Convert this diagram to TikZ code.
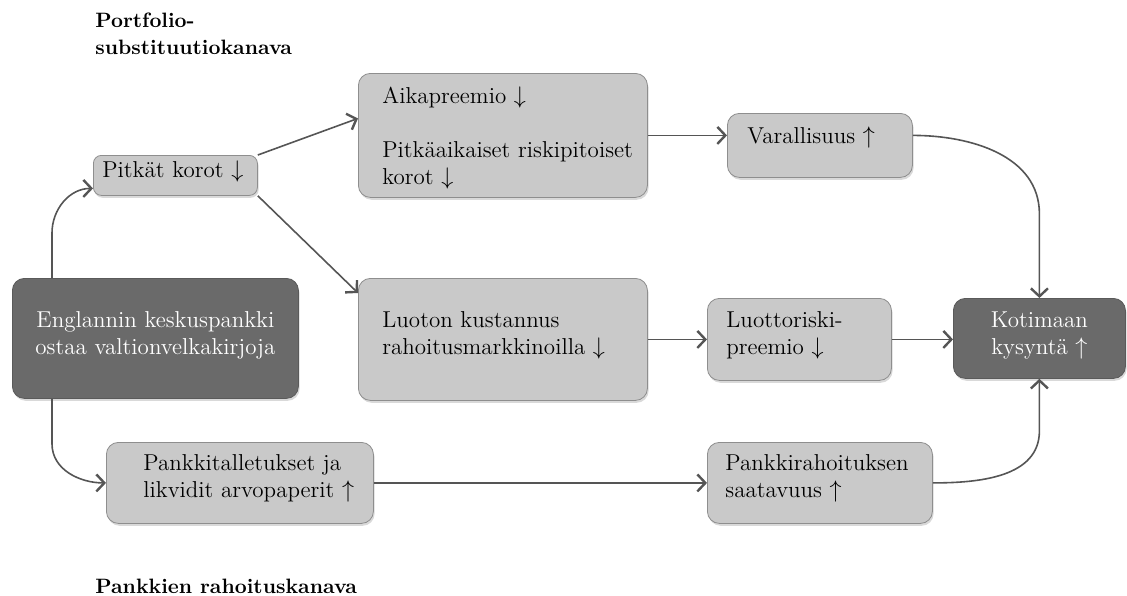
\documentclass[tikz,border=0pt]{standalone}
\usepackage{fontspec}
\usepackage{tikz}
\usetikzlibrary{arrows.meta,shadows}

\definecolor{boxgray}{HTML}{C9C9C9}
\definecolor{boxline}{HTML}{8E8E8E}
\definecolor{boxdark}{HTML}{6A6A6A}
\definecolor{arrowgray}{HTML}{555555}

\newcommand\boxfont{\fontsize{11.5}{13.5}\selectfont\hyphenpenalty=10000\relax}

\tikzset{
  box/.style={rectangle, rounded corners=6pt, draw=boxline, fill=boxgray,
    anchor=north west, align=left, inner ysep=0pt, font=\boxfont,
    drop shadow={shadow xshift=0.6pt, shadow yshift=-1.2pt, opacity=0.3}},
  darkbox/.style={box, fill=boxdark, draw=boxdark!85!black, text=white,
    align=center, inner xsep=0pt},
  arrow/.style={draw=arrowgray, line width=0.8pt,
    -{Straight Barb[length=4pt,width=8.5pt,line width=1.2pt]}},
  title/.style={font=\fontsize{10.4}{13.5}\selectfont\bfseries, align=left, inner sep=0pt}
}

\begin{document}
\begin{tikzpicture}[x=0.5pt,y=-0.5pt]
  \useasboundingbox (0,0) rectangle (1127,595);

  % channel titles
  \node[title, anchor=north west] (ptitle) at (95,13) {Portfolio-\\substituutiokanava};
  \node[title, anchor=base west] (btitle) at (95,593) {Pankkien rahoituskanava};

  % boxes
  \node[darkbox, text width=143pt, text height=24.5pt, text depth=35.5pt] (eng) at (12,278)
    {Englannin keskuspankki\\ostaa valtionvelkakirjoja};
  \node[box, rounded corners=4pt, inner xsep=4.5pt, text width=73pt, text height=11pt, text depth=9pt] (pit) at (93,155)
    {Pitkät~korot~$\downarrow$};
  \node[box, inner xsep=12pt, text width=120.5pt, text height=15pt, text depth=47pt] (aika) at (358,73)
    {Aikapreemio~$\downarrow$\\[13.5pt]Pitkäaikaiset~riskipitoiset\\korot~$\downarrow$};
  \node[box, inner xsep=12pt, text width=120.5pt, text height=24.5pt, text depth=36.5pt] (luo) at (358,278)
    {Luoton~kustannus\\rahoitusmarkkinoilla~$\downarrow$};
  \node[box, inner xsep=10pt, text width=72.5pt, text height=15pt, text depth=17pt] (var) at (727,113)
    {Varallisuus~$\uparrow$};
  \node[box, inner xsep=9.5pt, text width=73pt, text height=14.5pt, text depth=26.5pt] (lri) at (707,298)
    {Luottoriski-\\preemio~$\downarrow$};
  \node[darkbox, text width=86pt, text height=14.5pt, text depth=25.5pt] (kot) at (953,298)
    {Kotimaan\\kysyntä~$\uparrow$};
  \node[box, inner xsep=18.5pt, text width=96.5pt, text height=14pt, text depth=26.5pt] (pta) at (106,442)
    {Pankkitalletukset~ja\\likvidit~arvopaperit~$\uparrow$};
  \node[box, inner xsep=9pt, text width=94.5pt, text height=14pt, text depth=26.5pt] (prh) at (707,442)
    {Pankkirahoituksen\\saatavuus~$\uparrow$};

  % portfolio channel
  \draw[arrow] ([xshift=20pt]eng.north west) -- ++(0,-45) to[out=90,in=180] ([yshift=-6.5pt]pit.west);
  \draw[arrow] (pit.north east) -- ([yshift=8.5pt]aika.west);
  \draw[arrow] (pit.south east) -- ([yshift=-7.5pt]luo.north west);
  \draw[arrow] (aika.east) -- (aika.east -| var.west);
  \draw[arrow] ([yshift=5pt]var.east) to[out=0,in=90] ([yshift=42pt]kot.north) -- (kot.north);
  \draw[arrow] (luo.east) -- (lri.west);
  \draw[arrow] (lri.east) -- (lri.east -| kot.west);

  % bank funding channel
  \draw[arrow] ([xshift=20pt]eng.south west) -- ++(0,45) to[out=270,in=180] (pta.west);
  \draw[arrow] (pta.east) -- (prh.west);
  \draw[arrow] (prh.east) to[out=0,in=270] ([yshift=-26pt]kot.south) -- (kot.south);
\end{tikzpicture}
\end{document}
